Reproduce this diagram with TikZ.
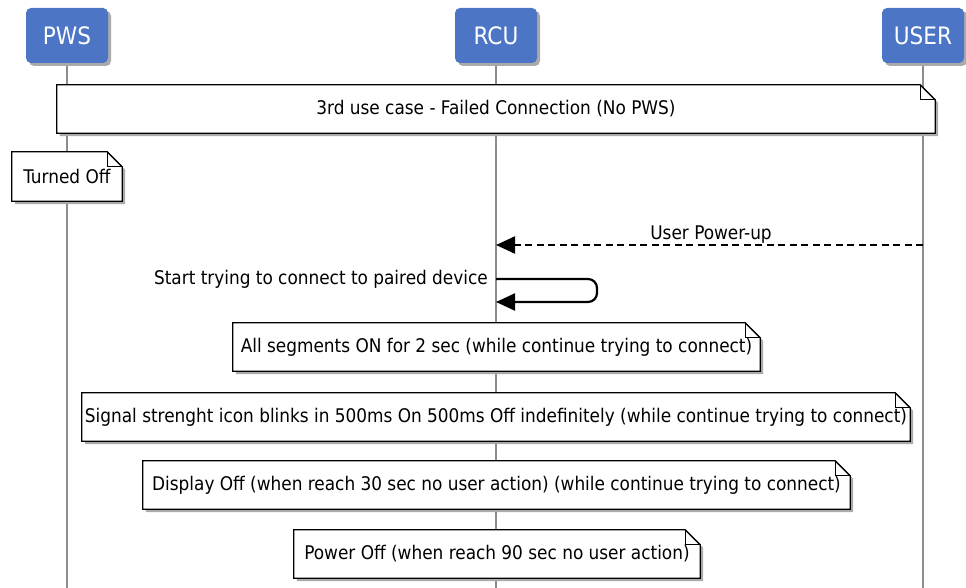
\documentclass[tikz,border=0pt]{standalone}
\usepackage{fontspec}
\setmainfont{DejaVu Sans Condensed}
\usepackage{tikz}
\usetikzlibrary{arrows.meta,shadows}
\definecolor{headblue}{RGB}{76,117,197}
\definecolor{lifegray}{RGB}{140,140,140}
\definecolor{shadegray}{RGB}{170,170,170}
\pgfdeclarelayer{lifelines}
\pgfdeclarelayer{notes}
\pgfsetlayers{lifelines,notes,main}

\tikzset{
	head/.style={rounded corners=5pt, fill=headblue, text=white, minimum width=82pt, minimum height=55pt,
		font=\fontsize{24}{28}\selectfont, drop shadow={shadow xshift=3pt, shadow yshift=-3pt, fill=shadegray, opacity=1}},
	lifeline/.style={lifegray, line width=1.5pt},
	note/.style={inner sep=0pt, font=\fontsize{18.8}{22}\selectfont},
	msg/.style={line width=2.2pt, -{Triangle[length=19pt,width=17pt]}},
	msglabel/.style={inner sep=0pt, font=\fontsize{18.8}{22}\selectfont},
}

% dog-eared outline of a note, drawn behind its text
\newcommand{\notefold}[1]{%
	\begin{pgfonlayer}{notes}
		\begin{scope}[transform canvas={shift={(3pt,-3pt)}}]
			\fill[shadegray] (#1.south west) -- (#1.north west) -- ([xshift=-15pt]#1.north east) -- ([yshift=-15pt]#1.north east) -- (#1.south east) -- cycle;
		\end{scope}
		\filldraw[fill=white, line width=1.3pt] (#1.south west) -- (#1.north west) -- ([xshift=-15pt]#1.north east) -- ([yshift=-15pt]#1.north east) -- (#1.south east) -- cycle;
		\draw[line width=1.3pt] ([xshift=-15pt]#1.north east) |- ([yshift=-15pt]#1.north east);
	\end{pgfonlayer}}

\begin{document}
\begin{tikzpicture}[x=1pt, y=-1pt]
	\useasboundingbox (0,0) rectangle (966,588);

	% participants
	\node [head] (pws) at (67,35.5) {PWS};
	\node [head] (rcu) at (496,35.5) {RCU};
	\node [head] (user) at (923,35.5) {USER};
	\begin{pgfonlayer}{lifelines}
		\draw [lifeline] (pws.south) -- (pws.south |- 0,588);
		\draw [lifeline] (rcu.south) -- (rcu.south |- 0,588);
		\draw [lifeline] (user.south) -- (user.south |- 0,588);
	\end{pgfonlayer}

	% notes
	\node [note, minimum width=878pt, minimum height=48pt] (title) at (496,109) {3rd use case - Failed Connection (No PWS)};
	\notefold{title}
	\node [note, minimum width=110pt, minimum height=49pt] (off) at (67,176.5) {Turned Off};
	\notefold{off}

	% messages
	\coordinate (upsrc) at (user.south |- 0,245);
	\coordinate (updst) at (rcu.south |- 0,245);
	\draw [msg, dash pattern=on 7pt off 4.5pt] (upsrc) -- (updst);
	\node [msglabel] (uplabel) at (711,235) {User Power-up};

	\coordinate (selfout) at (rcu.south |- 0,279);
	\coordinate (selfin) at (rcu.south |- 0,302);
	\draw [msg, rounded corners=9pt] (selfout) -- ++(101,0) |- (selfin);
	\node [msglabel, anchor=east] (selflabel) at (488,279) {Start trying to connect to paired device};

	\node [note, minimum width=527pt, minimum height=48pt] (segs) at (496.5,347) {All segments ON for 2 sec (while continue trying to connect)};
	\notefold{segs}
	\node [note, minimum width=828pt, minimum height=48pt] (blink) at (496,417) {Signal strenght icon blinks in 500ms On 500ms Off indefinitely (while continue trying to connect)};
	\notefold{blink}
	\node [note, minimum width=707pt, minimum height=48pt] (disp) at (496.5,485) {Display Off (when reach 30 sec no user action) (while continue trying to connect)};
	\notefold{disp}
	\node [note, minimum width=406pt, minimum height=48pt] (power) at (497,554) {Power Off (when reach 90 sec no user action)};
	\notefold{power}
\end{tikzpicture}
\end{document}
